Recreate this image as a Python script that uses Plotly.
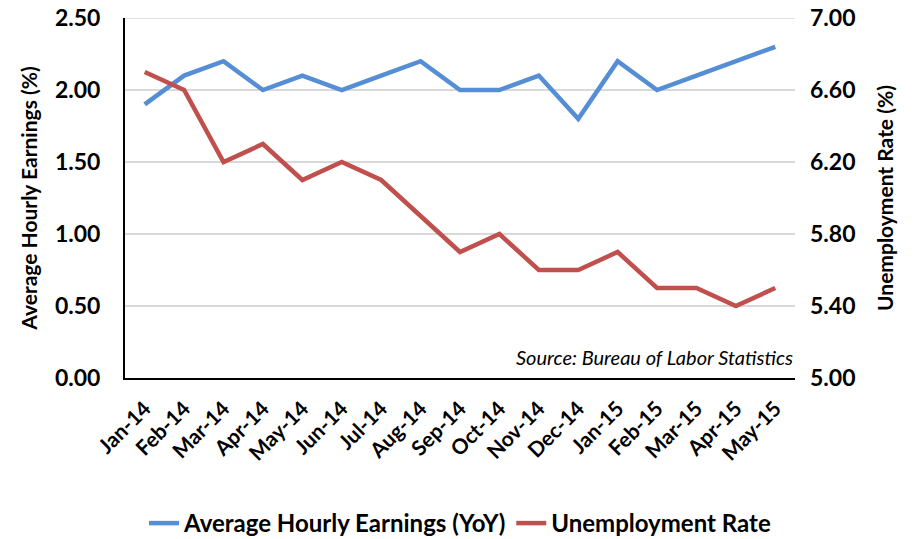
import plotly.graph_objects as go

months = ["Jan-14", "Feb-14", "Mar-14", "Apr-14", "May-14", "Jun-14", "Jul-14", "Aug-14",
          "Sep-14", "Oct-14", "Nov-14", "Dec-14", "Jan-15", "Feb-15", "Mar-15", "Apr-15", "May-15"]
earnings = [1.9, 2.1, 2.2, 2.0, 2.1, 2.0, 2.1, 2.2, 2.0, 2.0, 2.1, 1.8, 2.2, 2.0, 2.1, 2.2, 2.3]
unemployment = [6.7, 6.6, 6.2, 6.3, 6.1, 6.2, 6.1, 5.9, 5.7, 5.8, 5.6, 5.6, 5.7, 5.5, 5.5, 5.4, 5.5]
left_ticks = [0.0, 0.5, 1.0, 1.5, 2.0, 2.5]
right_ticks = [5.0, 5.4, 5.8, 6.2, 6.6, 7.0]

FONT = "Lato"
BLUE = "#558ED5"
RED = "#C0504D"
GRID = "#D9D9D9"

fig = go.Figure()
fig.add_trace(go.Scatter(x=months, y=earnings, mode="lines", name="<b>Average Hourly Earnings (YoY)</b>",
                         line=dict(color=BLUE, width=4.5)))
fig.add_trace(go.Scatter(x=months, y=unemployment, mode="lines", name="<b>Unemployment Rate</b>",
                         line=dict(color=RED, width=4.5), yaxis="y2"))

fig.update_layout(
    width=920, height=539,
    margin=dict(l=125, r=125, t=18, b=161, autoexpand=False),
    paper_bgcolor="white", plot_bgcolor="white",
    font=dict(family=FONT, color="black"),
    xaxis=dict(type="category", tickangle=-45, showgrid=False, showline=True, automargin=False,
               linecolor="black", linewidth=2, ticks="", ticklabelstandoff=8,
               tickfont=dict(family=FONT, size=21, color="black", weight="bold"),
               range=[-0.5, len(months) - 0.5]),
    yaxis=dict(range=[0, 2.5], tickvals=left_ticks, ticktext=[f"{v:.2f}" for v in left_ticks],
               showgrid=True, gridcolor=GRID, gridwidth=1.5, showline=True, automargin=False,
               linecolor="black", linewidth=2, zeroline=False, ticks="", ticklabelstandoff=18,
               ticklabeloverflow="allow",
               tickfont=dict(family=FONT, size=23, color="black", weight="bold"),
               title=dict(text="<b>Average Hourly Earnings (%)</b>",
                          font=dict(family=FONT, size=21, color="black"), standoff=12)),
    yaxis2=dict(range=[5, 7], tickvals=right_ticks, ticktext=[f"{v:.2f}" for v in right_ticks],
                overlaying="y", side="right", showgrid=False, showline=False, zeroline=False, ticks="",
                automargin=False, ticklabelstandoff=14, ticklabeloverflow="allow",
                tickfont=dict(family=FONT, size=23, color="black", weight="bold"),
                title=dict(text="<b>Unemployment Rate (%)</b>",
                           font=dict(family=FONT, size=21, color="black"), standoff=23)),
    legend=dict(orientation="h", xref="container", yref="container", x=0.5, xanchor="center",
                y=0.0705, yanchor="top",
                font=dict(family=FONT, size=24, color="black"), tracegroupgap=0),
    annotations=[dict(text="<i>Source: Bureau of Labor Statistics</i>", xref="paper", yref="paper",
                      x=1.0, y=0.02, xanchor="right", yanchor="bottom", showarrow=False,
                      font=dict(family=FONT, size=20, color="black"))],
    shapes=[dict(type="line", xref="paper", yref="y", x0=0, x1=1, y0=left_ticks[-1], y1=left_ticks[-1],
                 line=dict(color=GRID, width=1.5), layer="below")],
)

fig.write_html("out.html", config={"displayModeBar": False},
               post_script="document.body.style.margin='0';")
